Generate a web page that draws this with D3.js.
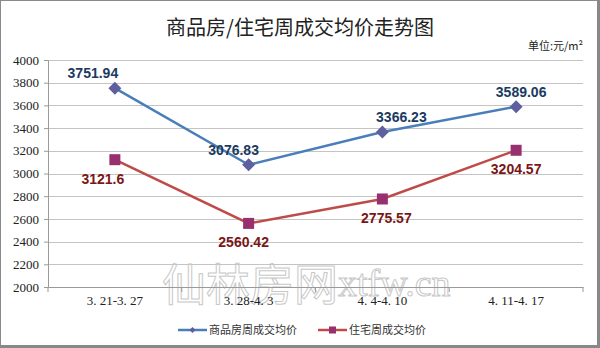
<!DOCTYPE html>
<html lang="zh">
<head>
<meta charset="UTF-8">
<title>商品房/住宅周成交均价走势图</title>
<script src="https://cdn.jsdelivr.net/npm/d3@7"></script>
<style>
  body { margin: 0; background: #fff; }
  .axis text { font-family: "Liberation Serif", "DejaVu Serif", serif; font-size: 13px; fill: #222; }
</style>
</head>
<body>
<script>
// data
var weeks = ["3.21-3.27", "3.28-4.3", "4.4-4.10", "4.11-4.17"];
var weekLabels = ["3. 21-3. 27", "3. 28-4. 3", "4. 4-4. 10", "4. 11-4. 17"];
var commercial = [3751.94, 3076.83, 3366.23, 3589.06];   // 商品房
var residential = [3121.6, 2560.42, 2775.57, 3204.57];   // 住宅
var yTicks = [2000, 2200, 2400, 2600, 2800, 3000, 3200, 3400, 3600, 3800, 4000];

// label nudges (layout only)
var blueDx = [-22, -15, 19, 5];
var redDx = [-12, -5, 4, 0];

var w = 600, h = 348;
var plotL = 48, plotR = 583, plotT = 60, plotB = 287;

var svg = d3.select("body").append("svg")
  .attr("width", w).attr("height", h);

// frame
svg.append("rect").attr("x", 0.5).attr("y", 0.5).attr("width", w - 2.5).attr("height", h - 2.5)
  .attr("fill", "#fff").attr("stroke", "#8a8a8a").attr("stroke-width", 1);
svg.append("line").attr("x1", w - 1.5).attr("x2", w - 1.5).attr("y1", 0).attr("y2", h)
  .attr("stroke", "#888").attr("stroke-width", 3);
svg.append("line").attr("x1", 0).attr("x2", w).attr("y1", h - 1.5).attr("y2", h - 1.5)
  .attr("stroke", "#888").attr("stroke-width", 3);

var x = d3.scaleBand().domain(weeks).range([plotL, plotR]);
var y = d3.scaleLinear().domain([2000, 4000]).range([plotB, plotT]);

// gridlines
svg.append("g").selectAll("line").data(yTicks.slice(1)).enter().append("line")
  .attr("x1", plotL).attr("x2", plotR)
  .attr("y1", function(d) { return Math.round(y(d)) + 0.5; })
  .attr("y2", function(d) { return Math.round(y(d)) + 0.5; })
  .attr("stroke", "#c4c4c4").attr("stroke-width", 1);

// watermark
var wm = svg.append("g").attr("fill", "none").attr("stroke", "#c8c8c8").attr("stroke-width", 1);
wm.append("text").attr("x", 162).attr("y", 301)
  .style("font-family", "Noto Sans CJK SC").style("font-size", "44px")
  .text("仙林房网");
wm.append("text").attr("x", 338).attr("y", 296)
  .style("font-family", "Liberation Serif").style("font-size", "38px")
  .text("xtfw.cn");

// y axis
var yAxis = svg.append("g").attr("class", "axis")
  .attr("transform", "translate(" + plotL + ",0)")
  .call(d3.axisLeft(y).tickValues(yTicks).tickSize(4).tickPadding(5).tickFormat(d3.format("d")));
yAxis.select(".domain").attr("stroke", "#9a9a9a");
yAxis.selectAll(".tick line").attr("stroke", "#9a9a9a");

// x axis
var xAxis = svg.append("g").attr("class", "axis")
  .attr("transform", "translate(0," + plotB + ")")
  .call(d3.axisBottom(x).tickSize(0).tickPadding(9).tickFormat(function(d, i) { return weekLabels[i]; }));
xAxis.select(".domain").attr("stroke", "#9a9a9a");
xAxis.selectAll(".tick text").attr("font-size", "12px");
// boundary ticks
svg.append("g").selectAll("line").data(weeks.concat(["end"])).enter().append("line")
  .attr("x1", function(d, i) { return i < weeks.length ? x(d) : plotR; })
  .attr("x2", function(d, i) { return i < weeks.length ? x(d) : plotR; })
  .attr("y1", plotB).attr("y2", plotB + 5)
  .attr("stroke", "#9a9a9a");

var cx = function(i) { return x(weeks[i]) + x.bandwidth() / 2; };

// lines
var line = d3.line().x(function(d, i) { return cx(i); }).y(function(d) { return y(d); });
svg.append("path").datum(commercial).attr("d", line)
  .attr("fill", "none").attr("stroke", "#4a7ebb").attr("stroke-width", 2.5);
svg.append("path").datum(residential).attr("d", line)
  .attr("fill", "none").attr("stroke", "#be4b48").attr("stroke-width", 2.5);

// markers
svg.append("g").selectAll("path").data(commercial).enter().append("path")
  .attr("transform", function(d, i) { return "translate(" + cx(i) + "," + y(d) + ")"; })
  .attr("d", "M0,-6.5L6.5,0L0,6.5L-6.5,0Z")
  .attr("fill", "#5f5e9f");
svg.append("g").selectAll("rect").data(residential).enter().append("rect")
  .attr("x", function(d, i) { return cx(i) - 5.5; })
  .attr("y", function(d) { return y(d) - 5.5; })
  .attr("width", 11).attr("height", 11)
  .attr("fill", "#983070");

// data labels
svg.append("g").selectAll("text").data(commercial).enter().append("text")
  .attr("x", function(d, i) { return cx(i) + blueDx[i]; })
  .attr("y", function(d) { return y(d) - 10; })
  .attr("text-anchor", "middle")
  .style("font-family", "Liberation Sans, Arial, sans-serif").style("font-size", "14px").style("font-weight", "bold")
  .attr("fill", "#1b3a5f")
  .text(function(d) { return d; });
svg.append("g").selectAll("text").data(residential).enter().append("text")
  .attr("x", function(d, i) { return cx(i) + redDx[i]; })
  .attr("y", function(d) { return y(d) + 24; })
  .attr("text-anchor", "middle")
  .style("font-family", "Liberation Sans, Arial, sans-serif").style("font-size", "14px").style("font-weight", "bold")
  .attr("fill", "#7a1616")
  .text(function(d) { return d; });

// title
svg.append("text").attr("x", 300).attr("y", 35).attr("text-anchor", "middle")
  .style("font-family", "Noto Sans CJK SC").style("font-size", "20px").attr("fill", "#222")
  .text("商品房/住宅周成交均价走势图");
svg.append("text").attr("x", 583).attr("y", 50).attr("text-anchor", "end")
  .style("font-family", "Noto Sans CJK SC").style("font-size", "11px").attr("fill", "#222")
  .text("单位:元/m²");

// legend
var legend = svg.append("g").attr("transform", "translate(0,330)");
legend.append("line").attr("x1", 178).attr("x2", 207).attr("y1", 0).attr("y2", 0)
  .attr("stroke", "#4a7ebb").attr("stroke-width", 2.5);
legend.append("path").attr("transform", "translate(192.5,0)").attr("d", "M0,-3L3,0L0,3L-3,0Z").attr("fill", "#5f5e9f");
legend.append("text").attr("x", 209).attr("y", 4)
  .style("font-family", "Noto Sans CJK SC").style("font-size", "11px").attr("fill", "#333")
  .text("商品房周成交均价");
legend.append("line").attr("x1", 318).attr("x2", 347).attr("y1", 0).attr("y2", 0)
  .attr("stroke", "#be4b48").attr("stroke-width", 2.5);
legend.append("rect").attr("x", 329).attr("y", -3.5).attr("width", 7).attr("height", 7).attr("fill", "#983070");
legend.append("text").attr("x", 349).attr("y", 4)
  .style("font-family", "Noto Sans CJK SC").style("font-size", "11px").attr("fill", "#333")
  .text("住宅周成交均价");
</script>
</body>
</html>
